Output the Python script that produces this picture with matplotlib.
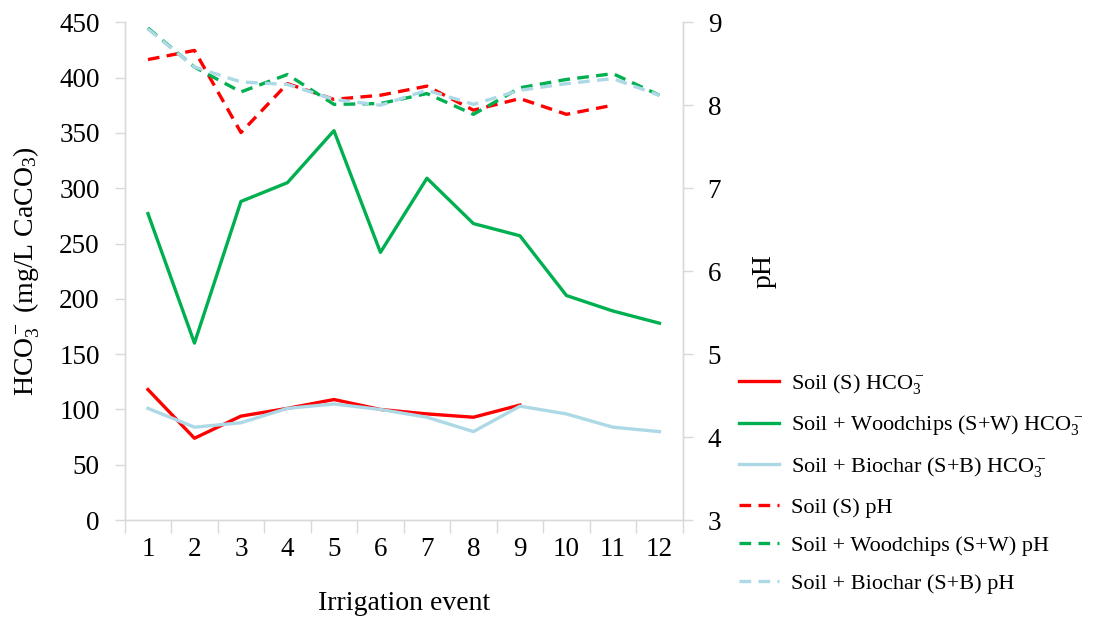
import matplotlib.pyplot as plt
import numpy as np

plt.rcParams['font.family'] = ['Liberation Serif', 'DejaVu Serif']
plt.rcParams['mathtext.fontset'] = 'custom'
plt.rcParams['mathtext.rm'] = 'Liberation Serif'
plt.rcParams['mathtext.it'] = 'Liberation Serif'

events = list(range(1, 13))

# HCO3- (mg/L CaCO3)
hco3_s = [118, 74, 94, 101, 109, 100, 96, 93, 104]
hco3_sw = [277, 160, 288, 305, 352, 242, 309, 268, 257, 203, 189, 178]
hco3_sb = [101, 84, 88, 101, 105, 100, 93, 80, 103, 96, 84, 80]

# pH
ph_s = [8.55, 8.66, 7.67, 8.26, 8.07, 8.12, 8.23, 7.94, 8.08, 7.89, 8.00]
ph_sw = [8.93, 8.46, 8.16, 8.37, 8.01, 8.02, 8.14, 7.89, 8.21, 8.31, 8.38, 8.12]
ph_sb = [8.92, 8.46, 8.28, 8.25, 8.07, 8.00, 8.18, 8.01, 8.18, 8.26, 8.32, 8.12]

red = '#FF0000'
green = '#00B050'
blue = '#ADD8E6'
axcol = '#D9D9D9'

fig = plt.figure(figsize=(10.94, 6.17), dpi=100)
ax = fig.add_axes([0.114, 0.157, 0.51, 0.807])
ax2 = ax.twinx()

lw = 2.4
dash = (0, (3.5, 2.2))
l1, = ax.plot(events[:len(hco3_s)], hco3_s, color=red, lw=lw)
l2, = ax.plot(events, hco3_sw, color=green, lw=lw)
l3, = ax.plot(events, hco3_sb, color=blue, lw=lw)
l4, = ax2.plot(events[:len(ph_s)], ph_s, color=red, lw=lw, linestyle=dash)
l5, = ax2.plot(events, ph_sw, color=green, lw=lw, linestyle=dash)
l6, = ax2.plot(events, ph_sb, color=blue, lw=lw, linestyle=dash)

ax.set_xlim(0.5, 12.5)
ax.set_ylim(0, 450)
ax2.set_ylim(3, 9)
ax.set_yticks(np.arange(0, 451, 50))
ax2.set_yticks(np.arange(3, 10, 1))
ax.set_xticks(events)
ax.set_xticks(np.arange(0.5, 13, 1), minor=True)
ax.tick_params(axis='x', which='major', length=0, labelsize=19.5, pad=12)
ax.tick_params(axis='x', which='minor', length=9, color=axcol, width=1)
ax.tick_params(axis='y', length=7, color=axcol, width=1, labelsize=19.5, pad=11)
ax2.tick_params(axis='y', length=7, color=axcol, width=1, labelsize=19.5, pad=11)

for a in (ax, ax2):
    a.spines['top'].set_visible(False)
    for s in ('left', 'right', 'bottom'):
        a.spines[s].set_color(axcol)
        a.spines[s].set_linewidth(1)

ax.set_xlabel('Irrigation event', fontsize=20, labelpad=21)
ax.set_ylabel(r'HCO$_3^-$ (mg/L CaCO$_3$)', fontsize=20, labelpad=12)
ax2.set_ylabel('pH', fontsize=20, labelpad=22)

labels = [r'Soil (S) HCO$_3^-$', r'Soil + Woodchips (S+W) HCO$_3^-$',
          r'Soil + Biochar (S+B) HCO$_3^-$', 'Soil (S) pH',
          'Soil + Woodchips (S+W) pH', 'Soil + Biochar (S+B) pH']
fig.legend([l1, l2, l3, l4, l5, l6], labels, loc='upper left',
           bbox_to_anchor=(0.657, 0.43), frameon=False, fontsize=16,
           handlelength=1.8, labelspacing=0.8, handletextpad=0.55)

fig.savefig('out.png', dpi=100)
